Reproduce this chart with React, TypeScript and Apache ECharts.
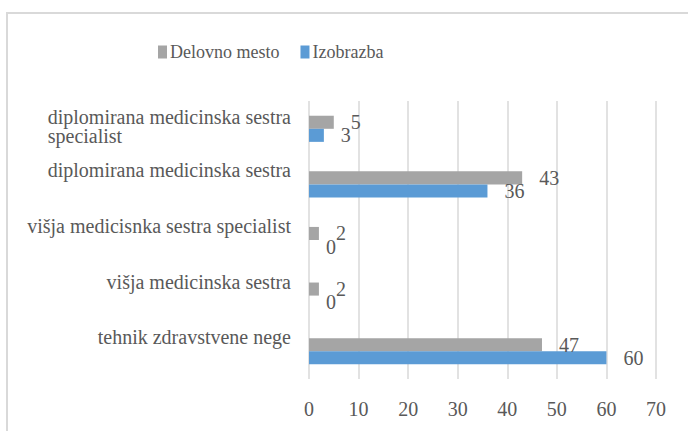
import React, { useEffect, useRef } from "react";
import * as echarts from "echarts";

const categories = [
  "tehnik zdravstvene nege",
  "višja medicinska sestra",
  "višja medicisnka sestra specialist",
  "diplomirana medicinska sestra",
  "diplomirana medicinska sestra\nspecialist",
];
const delovnoMesto = [47, 2, 2, 43, 5];
const izobrazba = [60, 0, 0, 36, 3];
const seriesNames = ["Delovno mesto", "Izobrazba"];

const FONT = "Liberation Serif";
const TEXT = "#595959";

export default function App() {
  const ref = useRef<HTMLDivElement>(null);
  useEffect(() => {
    if (!ref.current) return;
    const chart = echarts.init(ref.current, undefined, { renderer: "svg" });
    const labelCfg = {
      show: true,
      position: "right",
      distance: 17,
      fontFamily: FONT,
      fontSize: 20,
      color: TEXT,
    };
    chart.setOption({
      animation: false,
      backgroundColor: "#ffffff",
      textStyle: { fontFamily: FONT },
      graphic: [
        {
          type: "rect",
          shape: { x: 7, y: 13, width: 720, height: 460 },
          style: { fill: "none", stroke: "#D9D9D9", lineWidth: 2 },
          silent: true,
          z: -1,
        },
      ],
      legend: {
        data: seriesNames,
        left: 153,
        top: 38,
        icon: "rect",
        itemWidth: 9,
        itemHeight: 13,
        itemGap: 21,
        textStyle: { fontFamily: FONT, fontSize: 18, color: TEXT, padding: [0, 0, 0, -2] },
      },
      grid: { left: 309, right: 32, top: 101, bottom: 52, containLabel: false },
      xAxis: {
        type: "value",
        min: 0,
        max: 70,
        interval: 10,
        axisLine: { show: false },
        axisTick: { show: false },
        splitLine: { lineStyle: { color: "#D9D9D9", width: 1.5 } },
        axisLabel: { fontFamily: FONT, fontSize: 20, color: TEXT, margin: 20 },
      },
      yAxis: {
        type: "category",
        data: categories,
        axisLine: { show: false },
        axisTick: { show: false },
        axisLabel: {
          margin: 18,
          color: TEXT,
          fontFamily: FONT,
          fontSize: 20,
          formatter: (v: string) => {
            const lines = v.split("\n");
            if (lines.length === 1) return "{s|" + v + "}";
            return "{m|" + lines[0] + "}\n{n|" + lines[1] + "}";
          },
          rich: {
            s: { fontFamily: FONT, fontSize: 20, color: TEXT, lineHeight: 22, padding: [0, 0, 28, 0] },
            m: { fontFamily: FONT, fontSize: 20, color: TEXT, lineHeight: 23 },
            n: { fontFamily: FONT, fontSize: 20, color: TEXT, lineHeight: 23, padding: [0, 0, 8, 0], align: "left" },
          },
        },
      },
      series: [
        {
          name: seriesNames[0],
          type: "bar",
          data: delovnoMesto,
          itemStyle: { color: "#A5A5A5" },
          barGap: "0%",
          barCategoryGap: "53%",
          label: labelCfg,
        },
        {
          name: seriesNames[1],
          type: "bar",
          data: izobrazba,
          itemStyle: { color: "#5B9BD5" },
          barGap: "0%",
          barCategoryGap: "53%",
          label: labelCfg,
        },
      ],
    });
    return () => chart.dispose();
  }, []);
  return (
    <div
      ref={ref}
      style={{ position: "fixed", left: 0, top: 0, width: 688, height: 431 }}
    />
  );
}
